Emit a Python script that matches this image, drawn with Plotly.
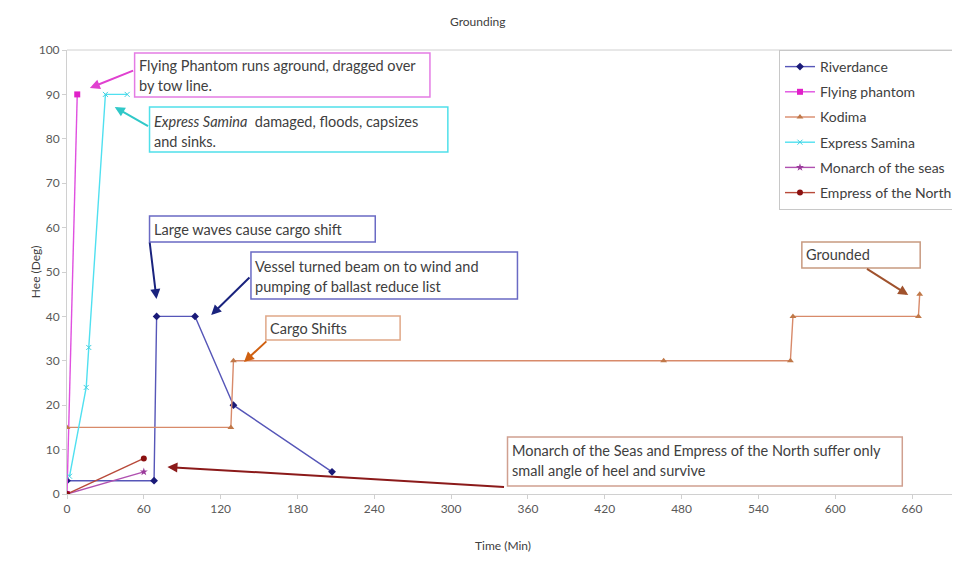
import plotly.graph_objects as go

# ---------------- data ----------------
riv_x = [0, 68, 70, 100, 130, 207]
riv_y = [3, 3, 40, 40, 20, 5]
fp_x = [0, 8]
fp_y = [0, 90]
kod_x = [0, 128, 130, 466, 565, 567, 665, 666]
kod_y = [15, 15, 30, 30, 30, 40, 40, 45]
es_x = [2, 15, 17, 30, 47]
es_y = [4, 24, 33, 90, 90]
mon_x = [0, 60]
mon_y = [0, 5]
emp_x = [0, 60]
emp_y = [0, 8]
x_ticks = list(range(0, 661, 60))
y_ticks = list(range(0, 101, 10))

# ---------------- geometry helpers (page pixel -> figure) ----------------
OFF = 8                      # default body margin of the page
W, H = 952, 546
L, T = 59, 42
R = 2
B = 60
PW, PH = W - L - R, H - T - B
XMAX = 692


def px(x):
    return (x - OFF - L) / PW


def py(y):
    return (H - B - (y - OFF)) / PH


def dx(x):
    return px(x) * XMAX


def dy(y):
    return py(y) * 100


FONT = "Lato"

fig = go.Figure()


def add(name, x, y, lc, mc, sym, ms=6, lw=1.4):
    fig.add_trace(go.Scatter(
        x=x, y=y, name=name, mode="lines+markers",
        line=dict(color=lc, width=lw),
        marker=dict(color=mc, symbol=sym, size=ms, line=dict(width=0)),
        legendgroup=name,
    ))


add("Riverdance", riv_x, riv_y, "#5656b8", "#1a1a78", "diamond", 6)
add("Flying phantom", fp_x, fp_y, "#e050e0", "#e020c8", "square", 6)
add("Kodima", kod_x, kod_y, "#d88a6a", "#c07848", "triangle-up", 6)
add("Express Samina", es_x, es_y, "#50e0f0", "#40d0e0", "x-thin-open", 5)
add("Monarch of the seas", mon_x, mon_y, "#b050b0", "#9a3a9a", "star", 6)
add("Empress of the North", emp_x, emp_y, "#b84a3a", "#8a1010", "circle", 6)

# ---------------- boxes with text ----------------
boxes = [
    (135, 53, 432, 97, "#e47ce4", [(66, "Flying Phantom runs aground, dragged over"), (86, "by tow line.")]),
    (150, 107, 450, 152, "#50e0ea", [(121, "<i>Express Samina</i>  damaged, floods, capsizes"), (141, "and sinks.")]),
    (150, 216, 377, 242, "#6a6ac4", [(229, "Large waves cause cargo shift")]),
    (252, 252, 520, 299, "#6a6ac4", [(266, "Vessel turned beam on to wind and"), (286, "pumping of ballast reduce list")]),
    (267, 316, 402, 340, "#e0a888", [(328, "Cargo Shifts")]),
    (806, 242, 925, 268, "#c89a80", [(254, "Grounded")]),
    (510, 437, 907, 486, "#d0a090", [(450, "Monarch of the Seas and Empress of the North suffer only"),
                                     (470, "small angle of heel and survive")]),
]
shapes = []
annots = []
for x0, y0, x1, y1, col, lines in boxes:
    shapes.append(dict(type="rect", xref="paper", yref="paper",
                       x0=px(x0), x1=px(x1), y0=py(y1), y1=py(y0),
                       line=dict(color=col, width=1.5), fillcolor="white", layer="above"))
    for ly, txt in lines:
        annots.append(dict(xref="paper", yref="paper", x=px(x0 + 2), y=py(ly),
                           xanchor="left", yanchor="middle", text=txt, showarrow=False,
                           font=dict(family=FONT, size=14.5, color="#404040")))

# top border line of plot area
shapes.append(dict(type="line", xref="paper", yref="paper", x0=0, x1=1, y0=1, y1=1,
                   line=dict(color="#d0d0d0", width=1), layer="below"))

# ---------------- arrows ----------------
arrows = [
    ((135, 70), (90, 88), "#e040d0"),
    ((150, 127), (115, 107), "#30c8c8"),
    ((150, 241), (157, 299), "#1a237e"),
    ((252, 276), (212, 315), "#1a237e"),
    ((269, 340), (245, 362), "#d06010"),
    ((870, 268), (913, 295), "#a0522d"),
    ((508, 487), (168, 467), "#8b1a1a"),
]
for (tx, ty), (hx, hy), col in arrows:
    annots.append(dict(xref="x", yref="y", axref="x", ayref="y",
                       x=dx(hx), y=dy(hy), ax=dx(tx), ay=dy(ty), text="",
                       showarrow=True, arrowhead=2, arrowsize=1, arrowwidth=2,
                       arrowcolor=col, standoff=0, startstandoff=0))

# title and axis titles
annots.append(dict(xref="paper", yref="paper", x=px(480), y=py(22), text="Grounding",
                   showarrow=False, font=dict(family=FONT, size=12, color="#404040"),
                   xanchor="center", yanchor="middle"))
annots.append(dict(xref="paper", yref="paper", x=px(505), y=py(545.5), text="Time (Min)",
                   showarrow=False, font=dict(family=FONT, size=12, color="#404040"),
                   xanchor="center", yanchor="middle", borderpad=0))
annots.append(dict(xref="paper", yref="paper", x=px(35), y=py(272), text="Hee (Deg)",
                   showarrow=False, textangle=-90, font=dict(family=FONT, size=12, color="#404040"),
                   xanchor="center", yanchor="middle"))

fig.update_layout(
    width=W, height=H,
    margin=dict(l=L, r=R, t=T, b=B),
    paper_bgcolor="white", plot_bgcolor="white",
    font=dict(family=FONT, size=12, color="#595959"),
    shapes=shapes, annotations=annots,
    legend=dict(x=px(783), y=1, xanchor="left", yanchor="top",
                bordercolor="#c8c8c8", borderwidth=1, bgcolor="white",
                font=dict(family=FONT, size=14, color="#404040"),
                tracegroupgap=4, itemwidth=30),
    xaxis=dict(range=[0, XMAX], tickvals=x_ticks, ticktext=[str(v) for v in x_ticks],
               showgrid=False, zeroline=False, showline=True, linecolor="#d0d0d0",
               ticks="outside", tickcolor="#d0d0d0", ticklen=4,
               tickfont=dict(family=FONT, size=12, color="#595959")),
    yaxis=dict(range=[0, 100], tickvals=y_ticks, ticktext=[str(v) for v in y_ticks],
               showgrid=False, zeroline=False, showline=True, linecolor="#d0d0d0",
               ticks="outside", tickcolor="#d0d0d0", ticklen=4,
               tickfont=dict(family=FONT, size=12, color="#595959")),
)

fig.write_html("out.html")
